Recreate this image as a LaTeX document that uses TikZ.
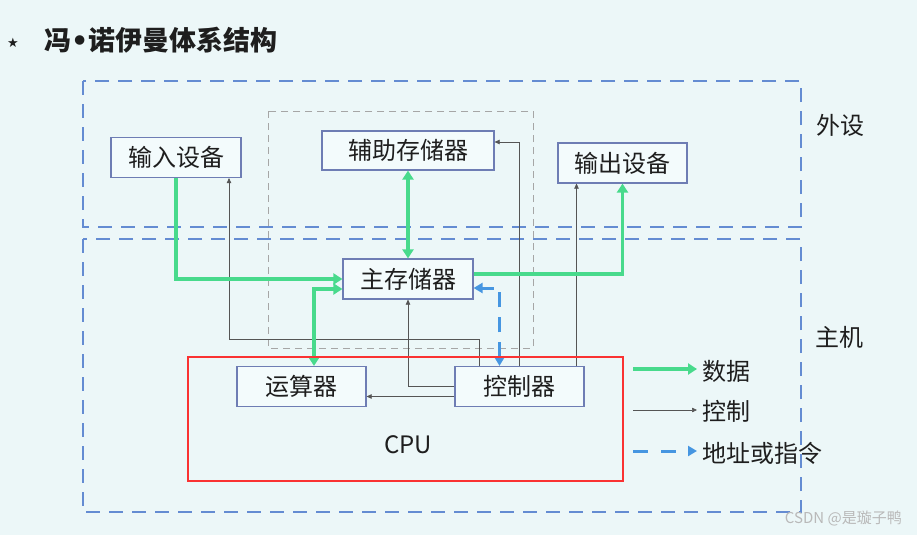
\documentclass[tikz,border=0pt]{standalone}
\usepackage{fontspec}
\setmainfont{Noto Sans CJK SC}
\newfontfamily\symfont{DejaVu Sans}
\usetikzlibrary{arrows.meta,calc}
\definecolor{bgc}{RGB}{236,247,248}
\definecolor{nodefill}{RGB}{243,251,252}
\definecolor{nodeline}{RGB}{110,125,180}
\definecolor{bigdash}{RGB}{100,140,210}
\definecolor{datac}{RGB}{72,218,140}
\definecolor{addrc}{RGB}{70,150,225}
\definecolor{ctrlc}{RGB}{85,85,85}
\definecolor{redc}{RGB}{250,50,50}
\definecolor{txt}{RGB}{30,30,30}
\tikzset{
  box/.style={draw=nodeline,line width=1.2pt,fill=nodefill,inner sep=0pt,
    minimum height=40pt,text=txt,font=\fontsize{24}{24}\selectfont},
  lbl/.style={inner sep=0pt,text=txt,font=\fontsize{24}{24}\selectfont},
  data/.style={draw=datac,line width=3.5pt,-{Triangle[length=9pt,width=11pt]}},
  datab/.style={draw=datac,line width=3.5pt,{Triangle[length=9pt,width=11pt]}-{Triangle[length=9pt,width=11pt]}},
  ctrl/.style={draw=ctrlc,line width=0.6pt,-{Triangle[length=5pt,width=4.5pt]}},
  addrb/.style={draw=addrc,line width=3pt,dash pattern=on 15pt off 10pt,{Triangle[length=9pt,width=10pt]}-{Triangle[length=9pt,width=10pt]}},
  addr/.style={draw=addrc,line width=3pt,dash pattern=on 15pt off 10pt,-{Triangle[length=9pt,width=10pt]}},
  region/.style={draw=bigdash,line width=2.8pt,dash pattern=on 14pt off 9pt},
  inner/.style={draw=gray!70,line width=0.9pt,dash pattern=on 7pt off 5pt}
}
\begin{document}
\begin{tikzpicture}[x=1pt,y=-1pt]
\fill[bgc] (0,0) rectangle (917,535);
\useasboundingbox (0,0) rectangle (917,535);

% title
\node[inner sep=0pt,text=txt,font=\symfont\fontsize{13}{13}\selectfont] (star) at (13,43) {★};
\node[anchor=west,inner sep=0pt,text=txt,font=\fontsize{27}{27}\selectfont\bfseries] (title) at (44,40) {冯{\symfont\bfseries •}诺伊曼体系结构};

% regions
\draw[region] (83,81) rectangle (801,227);
\draw[region] (83,239) rectangle (801,512);
\draw[inner] (268,111) rectangle (533,348);
\node[lbl] (lwai) at (840,125) {外设};
\node[lbl] (lzhu) at (839,337) {主机};

% nodes
\node[box,minimum width=130pt] (in) at (176,157.5) {输入设备};
\node[box,minimum width=172pt,minimum height=39pt] (aux) at (408,150.5) {辅助存储器};
\node[box,minimum width=129pt] (out) at (622.5,163) {输出设备};
\node[box,minimum width=130pt] (mem) at (408,279) {主存储器};
\node[box,minimum width=129pt] (alu) at (301.5,386.5) {运算器};
\node[box,minimum width=129pt] (cu) at (519.5,386.5) {控制器};

% control lines
\coordinate (inc) at ([xshift=53pt]in.south);
\coordinate (cua) at ([xshift=-40pt]cu.north);
\coordinate (cuo) at ([xshift=57pt]cu.north);
\draw[ctrl] (cua) |- (inc |- 0,339) -- (inc);
\draw[ctrl] (cu.north) |- ([yshift=8.5pt]aux.east);
\draw[ctrl] (cuo) -- (cuo |- out.south);
\draw[ctrl] (cu.west) -| (mem.south);
\draw[ctrl] ([yshift=-10pt]cu.west) -- ([yshift=-10pt]cu.west -| alu.east);

% data lines
\draw[data] (in.south) |- (mem.west);
\draw[datab] ([xshift=12.5pt]alu.north) |- ([yshift=-10pt]mem.west);
\draw[datab] (aux.south) -- (mem.north);
\draw[data] ([yshift=5pt]mem.east) -| (out.south);

% address
\draw[addrb] ([xshift=-20pt]cu.north) |- ([yshift=-9pt]mem.east);

% CPU
\draw[redc,line width=2.6pt] (188,357) rectangle (623,481);
\node[lbl] (cpu) at (408,445) {CPU};

% legend
\node[lbl,anchor=west] (ldata) at (702,371) {数据};
\node[lbl,anchor=west] (lctrl) at (702,411) {控制};
\node[lbl,anchor=west] (laddr) at (702,453) {地址或指令};
\coordinate (ld0) at (633,369);
\coordinate (lc0) at (633,410);
\coordinate (la0) at (633,451);
\draw[data] (ld0) -- ([xshift=-5pt]ld0 -| ldata.west);
\draw[ctrl] (lc0) -- ([xshift=-5pt]lc0 -| lctrl.west);
\draw[addr,dash pattern=on 15pt off 13pt] (la0) -- ([xshift=-5pt]la0 -| laddr.west);

% watermark
\node[inner sep=0pt,text=gray!55,font=\fontsize{15}{15}\selectfont,anchor=east] (wm) at (902,518) {CSDN @是璇子鸭};
\end{tikzpicture}
\end{document}
